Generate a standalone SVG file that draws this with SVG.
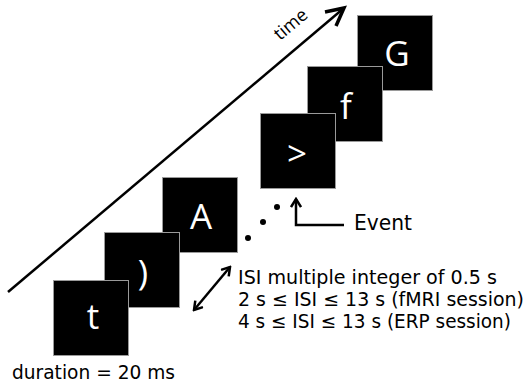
<svg xmlns="http://www.w3.org/2000/svg" width="525" height="386" viewBox="0 0 525 386">
<style>
.box{fill:#000;stroke:#9a9a9a;stroke-width:1}
.lt{fill:#fff;font-family:"Open Sans","DejaVu Sans",sans-serif;font-size:35px;text-anchor:middle}
.lbl{fill:#000;font-family:"DejaVu Sans",sans-serif;font-size:19px}
.ln{stroke:#000;fill:none;stroke-width:2.5}
</style>
<defs>
<marker id="chev" viewBox="0 0 12 12" refX="10" refY="6" markerWidth="12" markerHeight="12" markerUnits="userSpaceOnUse" orient="auto-start-reverse">
<path d="M2,1 L10,6 L2,11" fill="none" stroke="#000" stroke-width="2.5"/>
</marker>
</defs>
<rect width="525" height="386" fill="#fff"/>
<g id="time-axis">
<line class="ln" x1="8" y1="292" x2="344" y2="8" stroke-width="3"/>
<polyline points="325,12 344,8 336,26" fill="none" stroke="#000" stroke-width="3.5" stroke-linejoin="miter" stroke-linecap="butt"/>
<text x="280" y="41" transform="rotate(-40 280 41)" style="font-family:'Open Sans','DejaVu Sans',sans-serif;font-size:18px">time</text>
</g>
<g id="stim-G"><rect class="box" x="357.5" y="15.5" width="75" height="75"/><text class="lt" x="397" y="66">G</text></g>
<g id="stim-f"><rect class="box" x="307.5" y="66.5" width="75" height="75"/><text class="lt" x="346" y="119">f</text></g>
<g id="stim-gt"><rect class="box" x="260.5" y="113.5" width="75" height="75"/><text class="lt" x="297" y="166">&gt;</text></g>
<g id="stim-A"><rect class="box" x="162.5" y="177.5" width="75" height="75"/><text class="lt" x="201" y="229">A</text></g>
<g id="stim-paren"><rect class="box" x="104.5" y="232.5" width="75" height="75"/><text class="lt" x="143" y="285">)</text></g>
<g id="stim-t"><rect class="box" x="53.5" y="280.5" width="75" height="75"/><text class="lt" x="93" y="329">t</text></g>
<g id="dots">
<circle cx="248" cy="238" r="3"/>
<circle cx="263" cy="222" r="3"/>
<circle cx="277" cy="207" r="3"/>
</g>
<g id="connectors">
<path class="ln" d="M344,225 H296 V199" marker-end="url(#chev)"/>
<line class="ln" x1="194" y1="310" x2="230" y2="267" marker-start="url(#chev)" marker-end="url(#chev)"/>
</g>
<g id="labels">
<text x="354" y="230" style="font-family:'DejaVu Sans',sans-serif;font-size:22px" textLength="58" lengthAdjust="spacingAndGlyphs">Event</text>
<text class="lbl" x="238" y="284" textLength="259" lengthAdjust="spacingAndGlyphs">ISI multiple integer of 0.5 s</text>
<text class="lbl" x="238" y="306" textLength="286" lengthAdjust="spacingAndGlyphs">2 s ≤ ISI ≤ 13 s (fMRI session)</text>
<text class="lbl" x="238" y="328" textLength="273" lengthAdjust="spacingAndGlyphs">4 s ≤ ISI ≤ 13 s (ERP session)</text>
<text class="lbl" x="12" y="379" textLength="163" lengthAdjust="spacingAndGlyphs">duration = 20 ms</text>
</g>
</svg>
